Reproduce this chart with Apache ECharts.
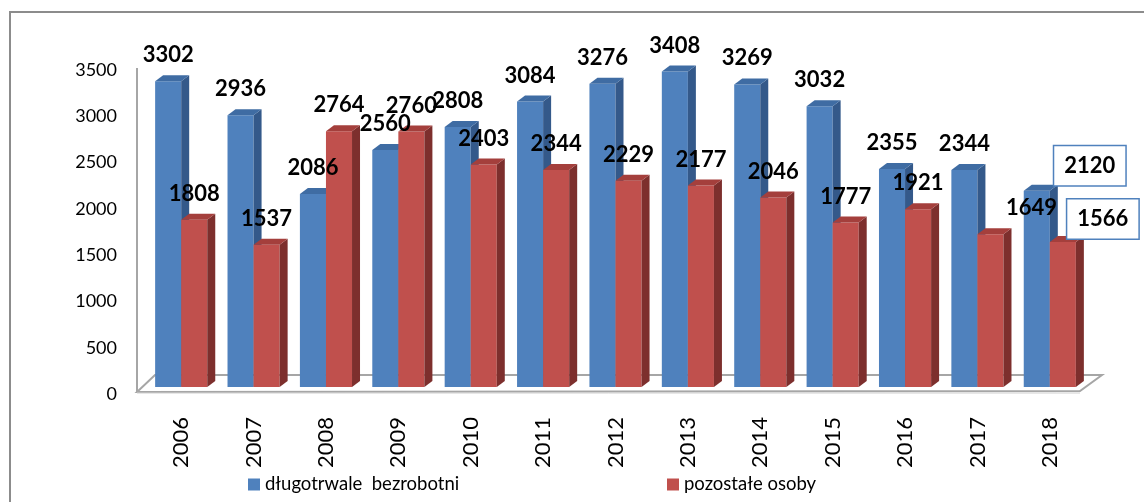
<!DOCTYPE html>
<html>
<head>
<meta charset="utf-8">
<script src="https://cdn.jsdelivr.net/npm/echarts@6/dist/echarts.min.js"></script>
<style>
html,body{margin:0;padding:0;background:#fff;}
#chart{width:1144px;height:502px;}
</style>
</head>
<body>
<div id="chart"></div>
<script>
// ---- data ----
const years = ['2006','2007','2008','2009','2010','2011','2012','2013','2014','2015','2016','2017','2018'];
const longTermUnemployed = [3302, 2936, 2086, 2560, 2808, 3084, 3276, 3408, 3269, 3032, 2355, 2344, 2120];
const otherPersons = [1808, 1537, 2764, 2760, 2403, 2344, 2229, 2177, 2046, 1777, 1921, 1649, 1566];
const seriesNames = ['długotrwale  bezrobotni', 'pozostałe osoby'];
const yMin = 0, yMax = 3500, yStep = 500;

// ---- styles ----
const FONT = 'Lato, "Open Sans", "Liberation Sans", sans-serif';
const palette = [
  {front: '#4f81bd', top: '#3f6ca3', side: '#34598a'},
  {front: '#c0504d', top: '#a43f3c', side: '#7d2f2d'}
];
const DEPTH_X = 8, DEPTH_Y = 6, BAR_RATIO = 0.36;
// label nudges (pixels) per series/category, and boxed labels
const labelNudge = [{12: [53, 1]}, {11: [41, 0], 12: [40, 3]}];
const labelBoxed = [{12: true}, {12: true}];

function barGeom(side, api) {
  const i = api.value(0), v = api.value(1);
  const base = api.coord([i, 0]);
  const top = api.coord([i, v]);
  const cw = api.size([1, 0])[0];
  const w = cw * BAR_RATIO;
  const x0 = side === 0 ? base[0] - w : base[0];
  return {x0: x0, x1: x0 + w, ty: top[1], by: base[1], w: w};
}

function barRenderer(side) {
  return function (params, api) {
    const g = barGeom(side, api);
    const c = palette[side];
    return {
      type: 'group',
      children: [
        {type: 'rect', shape: {x: g.x0, y: g.ty, width: g.w, height: g.by - g.ty}, style: {fill: c.front}},
        {type: 'polygon', shape: {points: [[g.x1, g.ty], [g.x1 + DEPTH_X, g.ty - DEPTH_Y], [g.x1 + DEPTH_X, g.by - DEPTH_Y], [g.x1, g.by]]}, style: {fill: c.side}},
        {type: 'polygon', shape: {points: [[g.x0, g.ty], [g.x1, g.ty], [g.x1 + DEPTH_X, g.ty - DEPTH_Y], [g.x0 + DEPTH_X, g.ty - DEPTH_Y]]}, style: {fill: c.top}}
      ]
    };
  };
}

function labelRenderer(side) {
  return function (params, api) {
    const g = barGeom(side, api);
    const i = api.value(0);
    const nudge = labelNudge[side][i] || [0, 0];
    const boxed = !!labelBoxed[side][i];
    const style = {
      text: String(api.value(1)),
      x: (g.x0 + g.x1) / 2 + nudge[0],
      y: g.ty - 26 + nudge[1],
      align: 'center', verticalAlign: 'middle',
      fontFamily: FONT, fontSize: 22, fontWeight: 'bold', fill: '#000'
    };
    if (boxed) {
      style.backgroundColor = '#fff';
      style.borderColor = '#4f81bd';
      style.borderWidth = 1.5;
      style.padding = [8, 10, 7, 10];
      style.lineHeight = 24;
    }
    return {type: 'text', style: style};
  };
}

function floorRenderer(params, api) {
  const cs = params.coordSys;
  const gl = cs.x, gr = cs.x + cs.width;
  const y0 = api.coord([0, yMin])[1];
  const yTop = api.coord([0, yMax])[1];
  return {
    type: 'group',
    children: [
      {type: 'polygon', shape: {points: [[gl - 8, y0 + 5], [gr - 6, y0 + 4], [gr + 16, y0 - 12], [gl + 10, y0 - 12]]},
        style: {fill: '#ffffff', stroke: '#a6a6a6', lineWidth: 2}},
      {type: 'line', shape: {x1: gl - 8, y1: y0 + 6, x2: gr - 6, y2: y0 + 6}, style: {stroke: '#d0d0d0', lineWidth: 1}},
      {type: 'line', shape: {x1: gl - 8, y1: y0 + 5, x2: gl - 8, y2: yTop + 5}, style: {stroke: '#a6a6a6', lineWidth: 2}}
    ]
  };
}

const chart = echarts.init(document.getElementById('chart'), null, {renderer: 'canvas'});
chart.setOption({
  animation: false,
  backgroundColor: '#ffffff',
  color: [palette[0].front, palette[1].front],
  graphic: [{type: 'rect', shape: {x: 10, y: 12, width: 1300, height: 600}, style: {fill: 'none', stroke: '#8c8c8c', lineWidth: 2}, z: 100}],
  grid: {left: 145, right: 58, top: 63, bottom: 115},
  legend: [
    {data: [seriesNames[0]], left: 243, top: 470, itemWidth: 12, itemHeight: 12, itemGap: 5, icon: 'rect',
      textStyle: {fontFamily: FONT, fontSize: 18.5, color: '#000'}},
    {data: [seriesNames[1]], left: 662, top: 470, itemWidth: 12, itemHeight: 12, itemGap: 5, icon: 'rect',
      textStyle: {fontFamily: FONT, fontSize: 18.5, color: '#000'}}
  ],
  xAxis: {
    type: 'category', data: years,
    axisLine: {show: false}, axisTick: {show: false},
    axisLabel: {rotate: 90, margin: 30, fontFamily: FONT, fontSize: 22, color: '#000', padding: [0, 0, 12, 0]}
  },
  yAxis: {
    type: 'value', min: yMin, max: yMax, interval: yStep,
    axisLine: {show: false}, axisTick: {show: false}, splitLine: {show: false},
    axisLabel: {margin: 28, fontFamily: FONT, fontSize: 18, color: '#000', verticalAlign: 'top', lineHeight: 14,
      formatter: function (v) { return String(v); }}
  },
  series: [
    {type: 'custom', name: 'floor', z: 1, silent: true, renderItem: floorRenderer, data: [[0, 0]]},
    {type: 'custom', name: seriesNames[0], z: 2, itemStyle: {color: palette[0].front}, renderItem: barRenderer(0),
      data: longTermUnemployed.map((v, i) => [i, v]), encode: {x: 0, y: 1}},
    {type: 'custom', name: seriesNames[1], z: 2, itemStyle: {color: palette[1].front}, renderItem: barRenderer(1),
      data: otherPersons.map((v, i) => [i, v]), encode: {x: 0, y: 1}},
    {type: 'custom', name: 'labels0', z: 5, silent: true, renderItem: labelRenderer(0),
      data: longTermUnemployed.map((v, i) => [i, v]), encode: {x: 0, y: 1}},
    {type: 'custom', name: 'labels1', z: 5, silent: true, renderItem: labelRenderer(1),
      data: otherPersons.map((v, i) => [i, v]), encode: {x: 0, y: 1}}
  ]
});
</script>
</body>
</html>
